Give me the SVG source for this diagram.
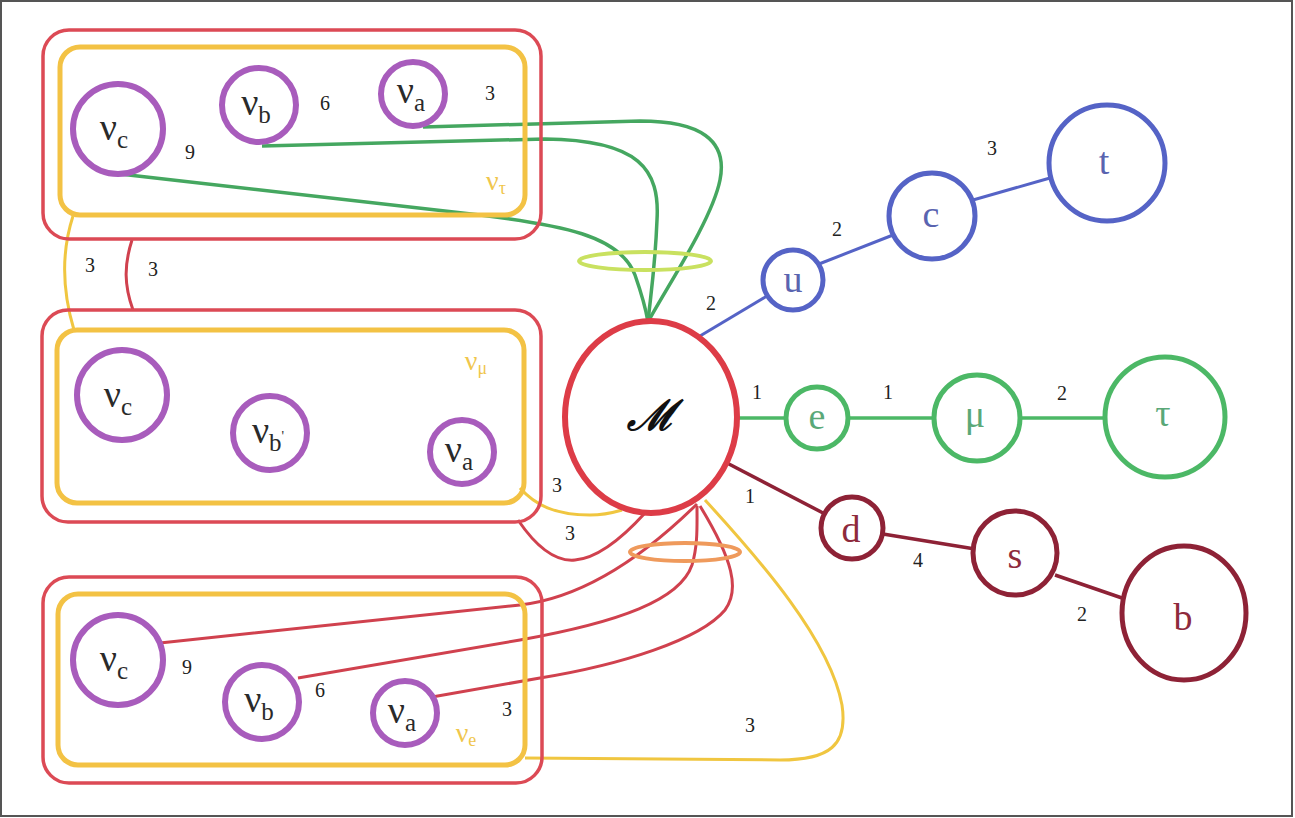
<svg xmlns="http://www.w3.org/2000/svg" width="1295" height="818" viewBox="0 0 1295 818">
  <style>
    .frame { fill: #ffffff; stroke: #555555; stroke-width: 2; }
    .outer { fill: none; stroke: #dc4a55; stroke-width: 3.5; }
    .inner { fill: none; stroke: #f3c244; stroke-width: 5; }
    .nu { fill: #ffffff; stroke: #a85cbc; stroke-width: 6; }
    .nutxt { font-family: "Liberation Serif", serif; font-size: 38px; fill: #2a2a2a; text-anchor: middle; }
    .sub { font-size: 25px; }
    .flav { font-family: "Liberation Serif", serif; font-size: 28px; fill: #f0c64c; text-anchor: middle; }
    .num { font-family: "Liberation Serif", serif; font-size: 20px; fill: #222222; text-anchor: middle; }
    .g { fill: none; stroke: #45a760; stroke-width: 3.5; }
    .r { fill: none; stroke: #d0414e; stroke-width: 3; }
    .y { fill: none; stroke: #f0c640; stroke-width: 3; }
    .blue { fill: #ffffff; stroke: #5563c6; stroke-width: 5; }
    .bline { stroke: #5563c6; stroke-width: 3; }
    .grn { fill: #ffffff; stroke: #4cb866; stroke-width: 5; }
    .gline { stroke: #4cb866; stroke-width: 3.5; }
    .dred { fill: #ffffff; stroke: #8e2236; stroke-width: 5; }
    .dline { stroke: #8e2236; stroke-width: 3.5; }
    .lbl { font-family: "Liberation Serif", serif; font-size: 38px; text-anchor: middle; }
  </style>

  <rect class="frame" x="1" y="1" width="1291" height="815"/>

  <!-- connectors -->
  <g id="connectors">
    <!-- nu_tau box to M (green) -->
    <path class="g" d="M 423,127 L 640,121 C 700,121 728,140 720,180 C 712,220 665,290 648,322"/>
    <path class="g" d="M 262,146 L 545,139 C 640,140 660,170 657,220 C 655,270 650,300 648,322"/>
    <path class="g" d="M 120,174 L 480,215 C 560,225 620,235 635,275 C 642,295 646,310 648,322"/>
    <ellipse cx="645" cy="261" rx="66" ry="9" fill="none" stroke="#c9e160" stroke-width="4"/>

    <!-- between nu_tau and nu_mu boxes -->
    <path class="y" d="M 73,216 C 62,250 62,290 74,330"/>
    <path class="r" d="M 132,240 C 124,265 124,285 133,310"/>

    <!-- nu_mu box to M -->
    <path class="y" d="M 520,488 C 535,505 555,515 590,515 C 605,515 615,512 622,510"/>
    <path class="r" d="M 518,520 C 535,545 555,562 575,560 C 600,558 625,535 645,513"/>

    <!-- nu_e box to M (red) -->
    <path class="r" d="M 160,643 L 520,605 C 580,598 640,560 697,504"/>
    <path class="r" d="M 298,678 L 520,640 C 620,622 680,600 692,565 C 698,545 697,525 697,506"/>
    <path class="r" d="M 432,697 L 540,678 C 620,665 700,640 725,610 C 740,590 733,560 700,506"/>
    <ellipse cx="685" cy="552" rx="55" ry="9" fill="none" stroke="#ef9a5c" stroke-width="4"/>

    <!-- nu_e yellow box to M -->
    <path class="y" d="M 525,758 L 780,760 C 830,760 848,745 842,705 C 830,640 760,560 705,500"/>

    <!-- quark and lepton chains -->
    <line class="bline" x1="700" y1="336" x2="767" y2="296"/>
    <line class="bline" x1="819" y1="264" x2="893" y2="235"/>
    <line class="bline" x1="973" y1="200" x2="1050" y2="178"/>
    <line class="gline" x1="737" y1="418" x2="785" y2="418"/>
    <line class="gline" x1="849" y1="418" x2="934" y2="418"/>
    <line class="gline" x1="1020" y1="418" x2="1105" y2="418"/>
    <line class="dline" x1="727" y1="463" x2="825" y2="514"/>
    <line class="dline" x1="883" y1="534" x2="975" y2="549"/>
    <line class="dline" x1="1055" y1="575" x2="1122" y2="598"/>
  </g>

  <!-- nu_tau group -->
  <g id="box-nutau">
    <rect class="outer" x="43" y="30" width="498" height="209" rx="26"/>
    <rect class="inner" x="60" y="47" width="465" height="168" rx="20"/>
    <text class="flav" x="496" y="190">ν<tspan font-size="18" dy="4">τ</tspan></text>
  </g>
  <g id="nutau-c">
    <circle class="nu" cx="118" cy="129" r="45"/>
    <text class="nutxt" x="114" y="140">ν<tspan class="sub" dy="8">c</tspan></text>
  </g>
  <g id="nutau-b">
    <circle class="nu" cx="259" cy="105" r="37"/>
    <text class="nutxt" x="256" y="115">ν<tspan class="sub" dy="8">b</tspan></text>
  </g>
  <g id="nutau-a">
    <circle class="nu" cx="413" cy="94" r="32"/>
    <text class="nutxt" x="411" y="103">ν<tspan class="sub" dy="8">a</tspan></text>
  </g>

  <!-- nu_mu group -->
  <g id="box-numu">
    <rect class="outer" x="42" y="310" width="499" height="212" rx="26"/>
    <rect class="inner" x="57" y="330" width="467" height="173" rx="20"/>
    <text class="flav" x="476" y="370">ν<tspan font-size="18" dy="4">μ</tspan></text>
  </g>
  <g id="numu-c">
    <circle class="nu" cx="122" cy="395" r="45"/>
    <text class="nutxt" x="118" y="407">ν<tspan class="sub" dy="8">c</tspan></text>
  </g>
  <g id="numu-b">
    <circle class="nu" cx="270" cy="433" r="37"/>
    <text class="nutxt" x="268" y="443">ν<tspan class="sub" dy="8">b</tspan><tspan font-size="14" dy="-10">'</tspan></text>
  </g>
  <g id="numu-a">
    <circle class="nu" cx="462" cy="452" r="32"/>
    <text class="nutxt" x="459" y="462">ν<tspan class="sub" dy="8">a</tspan></text>
  </g>

  <!-- nu_e group -->
  <g id="box-nue">
    <rect class="outer" x="43" y="577" width="499" height="206" rx="26"/>
    <rect class="inner" x="58" y="594" width="467" height="171" rx="20"/>
    <text class="flav" x="466" y="742">ν<tspan font-size="18" dy="4">e</tspan></text>
  </g>
  <g id="nue-c">
    <circle class="nu" cx="118" cy="660" r="45"/>
    <text class="nutxt" x="114" y="671">ν<tspan class="sub" dy="8">c</tspan></text>
  </g>
  <g id="nue-b">
    <circle class="nu" cx="262" cy="702" r="37"/>
    <text class="nutxt" x="259" y="712">ν<tspan class="sub" dy="8">b</tspan></text>
  </g>
  <g id="nue-a">
    <circle class="nu" cx="405" cy="713" r="32"/>
    <text class="nutxt" x="402" y="723">ν<tspan class="sub" dy="8">a</tspan></text>
  </g>

  <!-- central node -->
  <g id="node-M">
    <ellipse cx="651" cy="417" rx="86" ry="96" fill="#ffffff" stroke="#dd3c47" stroke-width="6"/>
    <text x="651" y="430" font-family="DejaVu Serif, serif" font-style="italic" font-weight="bold" font-size="42" fill="#111111" text-anchor="middle">ℳ</text>
  </g>

  <!-- up-type quarks -->
  <g id="node-u">
    <circle class="blue" cx="793" cy="280" r="30"/>
    <text class="lbl" x="793" y="292" fill="#5a64b0">u</text>
  </g>
  <g id="node-c">
    <circle class="blue" cx="932" cy="216" r="43"/>
    <text class="lbl" x="931" y="227" fill="#5a64b0">c</text>
  </g>
  <g id="node-t">
    <circle class="blue" cx="1107" cy="163" r="58"/>
    <text class="lbl" x="1104" y="174" fill="#5a64b0" font-size="42">t</text>
  </g>

  <!-- charged leptons -->
  <g id="node-e">
    <circle class="grn" cx="817" cy="418" r="31"/>
    <text class="lbl" x="817" y="429" fill="#5aa878">e</text>
  </g>
  <g id="node-mu">
    <circle class="grn" cx="977" cy="418" r="43"/>
    <text class="lbl" x="975" y="427" fill="#5aa878">μ</text>
  </g>
  <g id="node-tau">
    <circle class="grn" cx="1165" cy="417" r="60"/>
    <text class="lbl" x="1163" y="426" fill="#5aa878">τ</text>
  </g>

  <!-- down-type quarks -->
  <g id="node-d">
    <circle class="dred" cx="852" cy="528" r="31"/>
    <text class="lbl" x="851" y="542" fill="#8e2a3c">d</text>
  </g>
  <g id="node-s">
    <circle class="dred" cx="1015" cy="553" r="42"/>
    <text class="lbl" x="1015" y="568" fill="#8e2a3c">s</text>
  </g>
  <g id="node-b">
    <ellipse class="dred" cx="1184" cy="613" rx="62" ry="67"/>
    <text class="lbl" x="1183" y="630" fill="#8e2a3c" font-size="42">b</text>
  </g>

  <!-- multiplicity labels -->
  <g id="labels">
    <text class="num" x="190" y="159">9</text>
    <text class="num" x="325" y="110">6</text>
    <text class="num" x="490" y="100">3</text>
    <text class="num" x="90" y="272">3</text>
    <text class="num" x="153" y="276">3</text>
    <text class="num" x="557" y="492">3</text>
    <text class="num" x="570" y="540">3</text>
    <text class="num" x="187" y="674">9</text>
    <text class="num" x="320" y="697">6</text>
    <text class="num" x="507" y="716">3</text>
    <text class="num" x="750" y="732">3</text>
    <text class="num" x="711" y="310">2</text>
    <text class="num" x="837" y="236">2</text>
    <text class="num" x="992" y="155">3</text>
    <text class="num" x="757" y="399">1</text>
    <text class="num" x="888" y="399">1</text>
    <text class="num" x="1062" y="400">2</text>
    <text class="num" x="750" y="503">1</text>
    <text class="num" x="918" y="567">4</text>
    <text class="num" x="1082" y="621">2</text>
  </g>
</svg>
